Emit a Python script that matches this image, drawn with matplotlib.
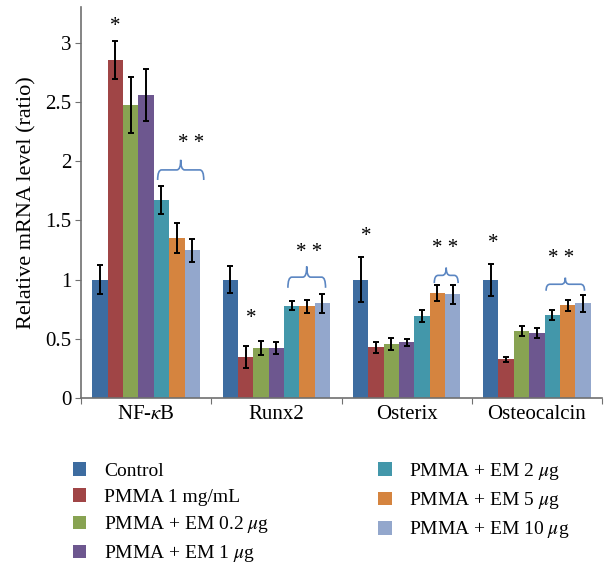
import matplotlib
matplotlib.use("Agg")
import matplotlib.pyplot as plt
import numpy as np
from matplotlib.patches import Patch, PathPatch
from matplotlib.path import Path

plt.rcParams['font.family'] = ['Liberation Serif', 'DejaVu Serif']
plt.rcParams['mathtext.fontset'] = 'stix'

genes = ["NF-$\\kappa$B", "Runx2", "Osterix", "Osteocalcin"]
series_names = ["Control", "PMMA 1 mg/mL", "PMMA + EM 0.2 $\\mu$g", "PMMA + EM 1 $\\mu$g",
                "PMMA + EM 2 $\\mu$g", "PMMA + EM 5 $\\mu$g", "PMMA + EM 10 $\\mu$g"]
colors = ["#3D6CA0", "#A04546", "#88A352", "#6D578F", "#4397AA", "#D5843F", "#93A7CC"]

control   = [1.00, 1.00, 1.00, 1.00]
pmma      = [2.85, 0.345, 0.427, 0.328]
em0_2     = [2.47, 0.42, 0.455, 0.565]
em1       = [2.56, 0.42, 0.47, 0.548]
em2       = [1.67, 0.78, 0.69, 0.70]
em5       = [1.35, 0.775, 0.885, 0.784]
em10      = [1.245, 0.80, 0.876, 0.80]

err_control = [0.125, 0.11, 0.19, 0.135]
err_pmma    = [0.16, 0.09, 0.045, 0.02]
err_em0_2   = [0.235, 0.057, 0.05, 0.04]
err_em1     = [0.22, 0.05, 0.03, 0.045]
err_em2     = [0.12, 0.04, 0.05, 0.04]
err_em5     = [0.125, 0.055, 0.065, 0.046]
err_em10    = [0.10, 0.08, 0.08, 0.07]

values = [control, pmma, em0_2, em1, em2, em5, em10]
errors = [err_control, err_pmma, err_em0_2, err_em1, err_em2, err_em5, err_em10]

yticks = [0, 0.5, 1, 1.5, 2, 2.5, 3]
ytick_labels = ["0", "0.5", "1", "1.5", "2", "2.5", "3"]

# single-star annotations
star_group = [0, 1, 2, 3]
star_series = [1, 1, 0, 0]
star_dx = [0.0, 0.045, 0.045, 0.02]
star_y = [3.135, 0.675, 1.365, 1.305]
# double-star annotations with braces
brace_group = [0, 1, 2, 3]
brace_first = [4, 4, 5, 4]
brace_last = [6, 6, 6, 6]
brace_lpad = [0.25, 0.25, 0.2, 0.4]
brace_rpad = [0.75, 0.2, 0.35, 0.1]
brace_bottom = [1.84, 0.93, 0.97, 0.905]
brace_height = [0.17, 0.18, 0.13, 0.11]
dstar_dx = [0.08, 0.02, -0.01, -0.03]
dstar_y = [2.145, 1.225, 1.265, 1.175]

fig = plt.figure(figsize=(6.08, 5.64), dpi=100)
ax = fig.add_axes([81/608, 1-398/564, (602-81)/608, (398-7)/564])

n = len(values)
w = 0.118
x = np.arange(len(genes))
for i, (v, e, c) in enumerate(zip(values, errors, colors)):
    pos = x + (i - (n-1)/2) * w
    ax.bar(pos, v, width=w, color=c, edgecolor='none', zorder=2)
    ax.errorbar(pos, v, yerr=e, fmt='none', ecolor='black', elinewidth=1.4,
                capsize=2.5, capthick=1.4, zorder=3)

def bar_x(g, s):
    return g + (s - (n-1)/2) * w

for g, s, dx, yy in zip(star_group, star_series, star_dx, star_y):
    ax.text(bar_x(g, s) + dx, yy, "*", ha='center', va='center', fontsize=15)

def brace(ax, x0, x1, yb, h, color="#5B86C2", lw=1.2):
    xm = (x0 + x1) / 2
    dx = 0.03
    ym = yb + h * 0.5
    verts = [(x0, yb), (x0, ym), (x0 + dx, ym),
             (xm - dx, ym), (xm, ym), (xm, yb + h),
             (xm, ym), (xm + dx, ym),
             (x1 - dx, ym), (x1, ym), (x1, yb)]
    codes = [Path.MOVETO, Path.CURVE3, Path.CURVE3,
             Path.LINETO, Path.CURVE3, Path.CURVE3,
             Path.CURVE3, Path.CURVE3,
             Path.LINETO, Path.CURVE3, Path.CURVE3]
    ax.add_patch(PathPatch(Path(verts, codes), fill=False, edgecolor=color, lw=lw, zorder=4))

for g, f, l, lp, rp, yb, h, tdx, ty in zip(brace_group, brace_first, brace_last, brace_lpad,
                                          brace_rpad, brace_bottom, brace_height, dstar_dx, dstar_y):
    x0 = bar_x(g, f) - lp * w
    x1 = bar_x(g, l) + rp * w
    brace(ax, x0, x1, yb, h)
    ax.text((x0 + x1) / 2 + tdx, ty, "* *", ha='center', va='center', fontsize=15)

ax.set_xlim(-0.5, len(genes) - 0.5)
ax.set_ylim(0, 3.3)
ax.set_yticks(yticks)
ax.set_yticklabels(ytick_labels)
ax.set_xticks(np.arange(len(genes) + 1) - 0.5)
ax.set_xticklabels([])
ax.set_xticks(x, minor=True)
ax.set_xticklabels(genes, minor=True)
ax.tick_params(axis='x', which='minor', length=0, labelsize=15, pad=5)
ax.tick_params(axis='x', which='major', length=4, direction='out', color='#707070')
ax.tick_params(axis='y', length=4, direction='out', color='#707070', labelsize=15, pad=3)
for sp in ['top', 'right']:
    ax.spines[sp].set_visible(False)
for sp in ['left', 'bottom']:
    ax.spines[sp].set_color('#707070')
    ax.spines[sp].set_linewidth(1.2)
ax.set_ylabel("Relative mRNA level (ratio)", fontsize=16, labelpad=6)

handles = [Patch(facecolor=c, edgecolor='none') for c in colors]
fig.legend(handles, series_names, loc='upper left', bbox_to_anchor=(65/608, 1-453/564),
           ncol=2, frameon=False, fontsize=14, handlelength=0.7, handleheight=0.7,
           handletextpad=0.9, columnspacing=5.6, labelspacing=0.43, borderaxespad=0)

fig.savefig("out.png", dpi=100)
